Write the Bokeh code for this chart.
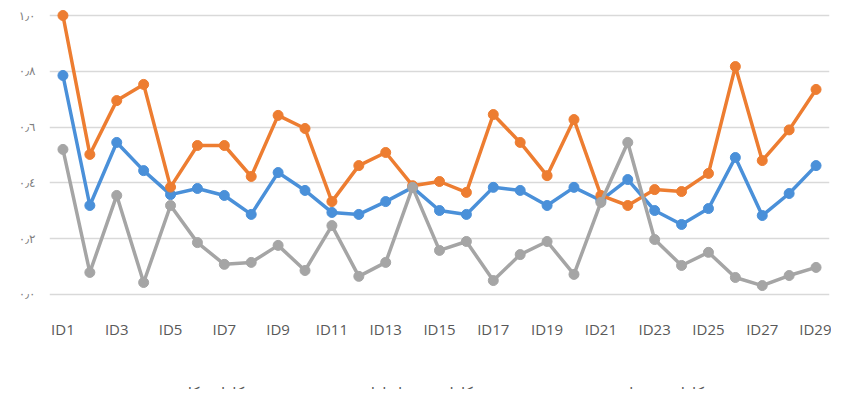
from bokeh.plotting import figure
from bokeh.models import FixedTicker, Legend, LegendItem, Range1d
from bokeh.layouts import column
from bokeh.embed import file_html
from bokeh.resources import INLINE

categories = [f"ID{i}" for i in range(1, 30)]

total_eff = [0.785, 0.319, 0.545, 0.444, 0.358, 0.380, 0.355, 0.287, 0.437, 0.373,
             0.294, 0.287, 0.333, 0.384, 0.301, 0.287, 0.384, 0.373, 0.319, 0.384,
             0.337, 0.412, 0.301, 0.251, 0.308, 0.491, 0.283, 0.362, 0.462]
stage1_eff = [1.000, 0.502, 0.695, 0.753, 0.385, 0.534, 0.534, 0.423, 0.642, 0.595,
              0.333, 0.462, 0.509, 0.390, 0.405, 0.366, 0.645, 0.545, 0.426, 0.627,
              0.355, 0.319, 0.376, 0.369, 0.434, 0.817, 0.480, 0.590, 0.735]
stage2_eff = [0.520, 0.079, 0.355, 0.043, 0.319, 0.186, 0.108, 0.115, 0.176, 0.086,
              0.247, 0.065, 0.115, 0.384, 0.158, 0.190, 0.050, 0.143, 0.190, 0.072,
              0.330, 0.545, 0.197, 0.104, 0.151, 0.061, 0.032, 0.068, 0.097]

y_ticks = [0.0, 0.2, 0.4, 0.6, 0.8, 1.0]
y_tick_labels = ["٠٫٠", "٠٫٢", "٠٫٤", "٠٫٦", "٠٫٨", "١٫٠"]

series_names = ["کارایی کل", "کارایی مرحل اول", "کارایی مرحله دوم"]
series_colors = ["#4A90D9", "#ED7D31", "#A5A5A5"]
series_values = [total_eff, stage1_eff, stage2_eff]

xs = list(range(1, len(categories) + 1))
x_ticks = xs[::2]

p = figure(width=831, height=363, x_range=Range1d(0.5, len(categories) + 0.5),
           y_range=Range1d(-0.0323, 1.0287), output_backend="svg", toolbar_location=None,
           min_border_left=49, min_border_right=2, min_border_top=7, min_border_bottom=60)
p.outline_line_color = None
p.background_fill_color = "white"

p.xgrid.grid_line_color = None
p.ygrid.grid_line_color = "#D9D9D9"
p.ygrid.grid_line_width = 1.3
p.ygrid.ticker = FixedTicker(ticks=y_ticks)

p.yaxis.ticker = FixedTicker(ticks=y_ticks)
p.yaxis.major_label_overrides = {t: l for t, l in zip(y_ticks, y_tick_labels)}
p.yaxis.axis_line_color = None
p.yaxis.major_tick_line_color = None
p.yaxis.minor_tick_line_color = None
p.yaxis.major_label_text_font = "DejaVu Sans"
p.yaxis.major_label_text_font_size = "12px"
p.yaxis.major_label_text_color = "#7F7F7F"
p.yaxis.major_label_standoff = 8

p.xaxis.ticker = FixedTicker(ticks=x_ticks)
p.xaxis.major_label_overrides = {x: categories[x - 1] for x in x_ticks}
p.xaxis.axis_line_color = None
p.xaxis.major_tick_line_color = None
p.xaxis.minor_tick_line_color = None
p.xaxis.major_label_text_font = "Open Sans"
p.xaxis.major_label_text_font_size = "15px"
p.xaxis.major_label_text_color = "#595959"
p.xaxis.major_label_standoff = 9

for vals, col in zip(series_values, series_colors):
    p.line(xs, vals, line_color=col, line_width=3.5)
    p.scatter(xs, vals, size=10, fill_color=col, line_color=col)

# legend strip below the chart (its renderers lie outside its visible ranges)
lg = figure(width=831, height=26, output_backend="svg", toolbar_location=None,
            x_range=Range1d(-3, -2), y_range=Range1d(-3, -2),
            x_axis_location=None, y_axis_location=None,
            min_border_left=15, min_border_right=0, min_border_top=0, min_border_bottom=0)
lg.outline_line_color = None
lg.grid.grid_line_color = None
items = []
for name, vals, col in zip(series_names, series_values, series_colors):
    l = lg.line(xs, vals, line_color=col, line_width=3.5)
    s = lg.scatter(xs, vals, size=10, fill_color=col, line_color=col)
    items.append(LegendItem(label=name, renderers=[l, s]))

legend = Legend(items=items, orientation="horizontal", location=(82, -14),
                label_text_font="DejaVu Sans", label_text_font_size="15px",
                label_text_color="#595959", glyph_width=42, glyph_height=20,
                spacing=70, label_standoff=8,
                border_line_color=None, background_fill_alpha=0, padding=3, margin=0)
lg.add_layout(legend, "center")

layout = column(p, lg, spacing=0)
open("out.html", "w").write(file_html(layout, INLINE))
